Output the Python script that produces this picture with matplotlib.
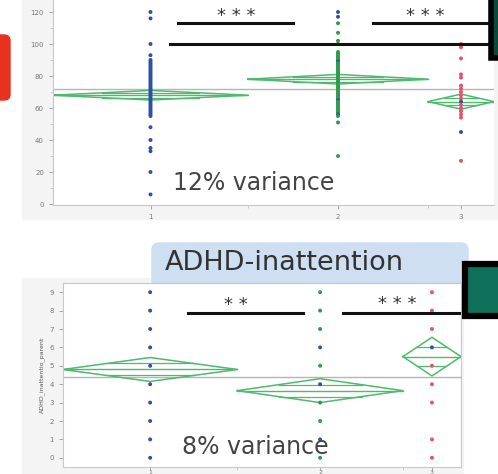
import matplotlib
matplotlib.use("Agg")
import matplotlib.pyplot as plt
from matplotlib.patches import Rectangle, FancyBboxPatch

W, H = 498, 474

# ---- top panel data (oneway, 3 groups) ----
top_n = [65, 60, 22]
top_means = [68, 78, 64]
top_ci = [3.0, 3.0, 4.7]
top_grand = 72
top_vals = [
    [120, 116, 100, 93, 90, 89, 88, 87, 86, 85, 84, 83, 82, 81, 80, 79, 78, 77,
     76, 75, 74, 73, 72, 71, 70, 69, 68, 67, 66, 65, 64, 63, 62, 61, 60, 59, 58,
     57, 56, 55, 48, 40, 35, 33, 20, 6],
    [120, 117, 113, 107, 102, 100, 95, 94, 93, 92, 91, 90, 89, 88, 87, 86, 85,
     84, 83, 82, 81, 80, 79, 78, 77, 76, 75, 74, 73, 72, 71, 70, 69, 68, 67, 66,
     65, 64, 63, 62, 61, 60, 59, 58, 57, 56, 55, 51, 30],
    [100, 98, 91, 81, 79, 74, 72, 70, 68, 66, 64, 62, 60, 58, 56, 54, 45, 27],
]
top_blue_in_other = {1: [120, 117, 89, 65, 56], 2: [64, 45]}

# ---- bottom panel data ----
bot_n = [60, 57, 20]
bot_means = [4.8, 3.65, 5.5]
bot_ci = [0.65, 0.65, 1.05]
bot_grand = 4.4
bot_vals = [
    [0, 1, 2, 3, 4, 5, 6, 7, 8, 9],
    [0, 1, 2, 3, 4, 5, 6, 7, 8, 9],
    [0, 1, 3, 4, 5, 6, 7, 8, 9],
]
bot_blue_in_other = {1: [6, 4, 1], 2: [6]}

group_colors = ["#2f4fa8", "#2e9a4a", "#e8506a"]
diamond_col = "#4dba6e"


def fx(px):
    return px / W


def fy(py):
    return 1 - py / H


def draw_panel(ax, n, means, ci, grand, vals, blue_extra):
    edges = [0]
    for k in n:
        edges.append(edges[-1] + k)
    centers = [(edges[i] + edges[i + 1]) / 2 for i in range(3)]
    ax.axhline(grand, color="#b5b5b5", lw=1, zorder=1)
    for i in range(3):
        L, R, C, m, c = edges[i], edges[i + 1], centers[i], means[i], ci[i]
        ax.plot([L, C, R, C, L], [m, m + c, m, m - c, m], color=diamond_col, lw=1.1, zorder=2)
        ax.plot([L, R], [m, m], color=diamond_col, lw=1, zorder=2)
        k = 0.5
        half = (R - L) / 2 * (1 - k)
        for s in (-1, 1):
            ax.plot([C - half, C + half], [m + s * k * c, m + s * k * c],
                    color=diamond_col, lw=0.9, zorder=2)
        cols = []
        for v in vals[i]:
            if i > 0 and v in blue_extra.get(i, []):
                cols.append(group_colors[0])
            else:
                cols.append(group_colors[i])
        ax.scatter([C] * len(vals[i]), vals[i], s=8, c=cols, edgecolors="none", zorder=3)
    ax.set_xlim(0, edges[-1])
    ax.set_xticks(centers)
    ax.set_xticklabels(["1", "2", "3"])
    ax.set_xticks(edges[1:-1], minor=True)
    ax.tick_params(axis="both", labelsize=5, colors="#999999", labelcolor="#777777",
                   length=3, width=0.6)
    ax.tick_params(which="minor", length=2, width=0.5, colors="#bbbbbb")
    for sp in ax.spines.values():
        sp.set_color("#c8c8c8")
        sp.set_linewidth(0.8)
    ax.set_zorder(2)
    return edges


fig = plt.figure(figsize=(W / 100, H / 100), dpi=100)

# light gray frames behind the plots
fig.patches.append(Rectangle((fx(22), fy(219)), fx(498 - 22), 219 / H,
                             transform=fig.transFigure, color="#f4f4f4", zorder=-2))
fig.patches.append(Rectangle((fx(22), 0), fx(463 - 22), (H - 278) / H,
                             transform=fig.transFigure, color="#f4f4f4", zorder=-2))

# title tab of the lower plot
fig.patches.append(FancyBboxPatch((fx(152), fy(290)), fx(468 - 152), (290 - 243) / H,
                                  boxstyle="round,pad=0,rounding_size=0.015",
                                  transform=fig.transFigure, color="#cddff1", zorder=-1))

# red tab top left, black boxes on the right
fig.patches.append(FancyBboxPatch((fx(-6), fy(100)), fx(16), 65 / H,
                                  boxstyle="round,pad=0,rounding_size=0.012",
                                  transform=fig.transFigure, color="#e8321e", zorder=-1))
fig.patches.append(Rectangle((fx(491), fy(58)), fx(12), 62 / H, transform=fig.transFigure,
                             facecolor="#0b4a3a", edgecolor="black", lw=4, zorder=5))
fig.patches.append(Rectangle((fx(465), fy(316)), fx(40), (316 - 264) / H,
                             transform=fig.transFigure, facecolor="#0e7058",
                             edgecolor="black", lw=4.5, zorder=5))

# ---- top axes ----
ax1 = fig.add_axes([fx(53), fy(205), fx(494 - 53), 205 / H])
draw_panel(ax1, top_n, top_means, top_ci, top_grand, top_vals, top_blue_in_other)
ax1.set_ylim(-0.6, 127.5)
ax1.set_yticks(range(0, 121, 20))
ax1.set_yticks(range(10, 121, 20), minor=True)
ax1.spines["top"].set_visible(False)
ax1.spines["right"].set_visible(False)
# significance bars
ax1.plot([41.7, 80], [113.3, 113.3], color="#111111", lw=2.2, zorder=4)
ax1.plot([106.7, 145], [113.3, 113.3], color="#111111", lw=2.2, zorder=4)
ax1.plot([39, 145.3], [100, 100], color="#111111", lw=2.2, zorder=4)

# ---- bottom axes ----
ax2 = fig.add_axes([fx(63), fy(467), fx(461 - 63), (467 - 283) / H])
draw_panel(ax2, bot_n, bot_means, bot_ci, bot_grand, bot_vals, bot_blue_in_other)
ax2.set_ylim(-0.5, 9.5)
ax2.set_yticks(range(0, 10))
ax2.tick_params(axis="x", length=2, pad=0.5, labelsize=4.5)
ax2.set_ylabel("ADHD_inattentio_parent", fontsize=4.5, color="#555555", labelpad=3)
ax2.plot([43.0, 82.6], [7.86, 7.86], color="#111111", lw=2.2, zorder=4)
ax2.plot([96.4, 136.7], [7.86, 7.86], color="#111111", lw=2.2, zorder=4)

# texts
star_kw = dict(fontsize=13, color="#333333", ha="center", va="baseline",
               family="DejaVu Sans", zorder=6)
fig.text(fx(236), fy(21), "* * *", **star_kw)
fig.text(fx(425), fy(21), "* * *", **star_kw)
fig.text(fx(236), fy(310), "* *", **star_kw)
fig.text(fx(397), fy(309), "* * *", **star_kw)

txt_kw = dict(color="#444444", va="center", ha="left", family="DejaVu Sans", zorder=6)
fig.text(fx(173), fy(183), "12% variance", fontsize=17, **txt_kw)
fig.text(fx(182), fy(447), "8% variance", fontsize=17, **txt_kw)
fig.text(fx(165), fy(263), "ADHD-inattention", fontsize=19.5, color="#333333",
         va="center", ha="left", family="DejaVu Sans", zorder=6)

fig.savefig("out.png", dpi=100)
